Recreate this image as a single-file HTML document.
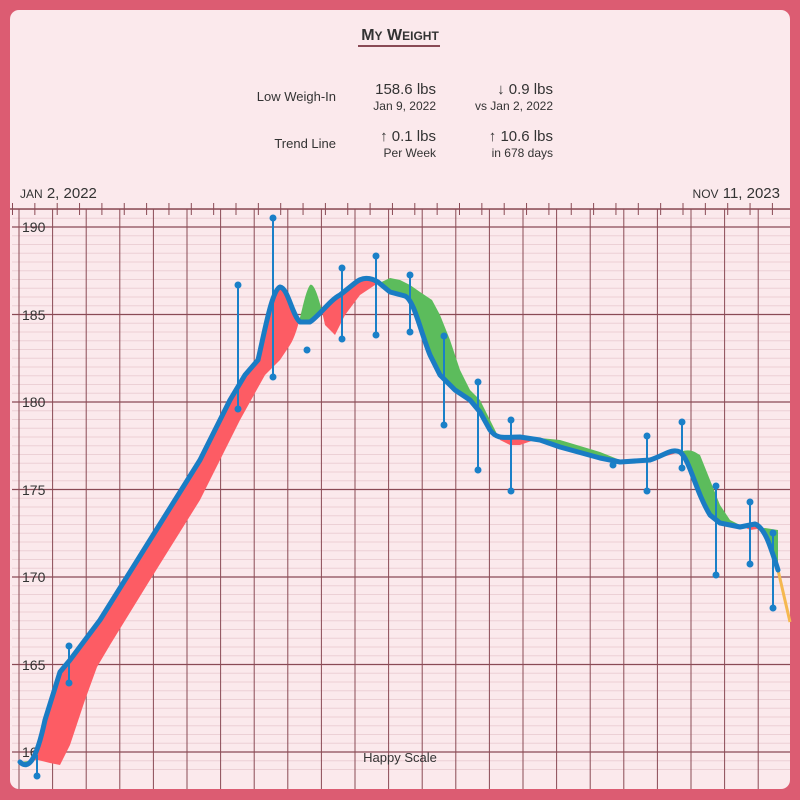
<!DOCTYPE html>
<html><head><meta charset="utf-8"><style>
body{margin:0;width:800px;height:800px;background:#dc5c72;font-family:"Liberation Sans",sans-serif;overflow:hidden}
</style></head><body>
<svg width="800" height="800" xmlns="http://www.w3.org/2000/svg" style="position:absolute;left:0;top:0">
<defs>
<clipPath id="card"><rect x="10" y="10" width="780" height="779" rx="9"/></clipPath>
<clipPath id="below"><path d="M20,762 C28,770 36,762 45,720 L60,672 L70,660 L100,620 L150,540 L200,460 L230,400 L245,375 L258,360 C265,330 272,290 280,287 C288,288 292,315 300,322 L310,322 C320,315 330,300 340,295 L355,283 C362,277 370,277 378,282 L390,292 L405,296 C414,300 420,330 430,355 L440,375 L455,390 L470,400 L480,412 L490,430 C497,440 505,437 520,437 L540,440 L560,447 L600,458 L620,462 L650,460 C665,455 672,448 680,452 C690,460 695,490 710,515 L720,523 L740,527 L755,524 C765,528 770,545 778,570 L800,620 L800,800 L0,800 L0,762 Z"/></clipPath>
<clipPath id="above"><path d="M20,762 C28,770 36,762 45,720 L60,672 L70,660 L100,620 L150,540 L200,460 L230,400 L245,375 L258,360 C265,330 272,290 280,287 C288,288 292,315 300,322 L310,322 C320,315 330,300 340,295 L355,283 C362,277 370,277 378,282 L390,292 L405,296 C414,300 420,330 430,355 L440,375 L455,390 L470,400 L480,412 L490,430 C497,440 505,437 520,437 L540,440 L560,447 L600,458 L620,462 L650,460 C665,455 672,448 680,452 C690,460 695,490 710,515 L720,523 L740,527 L755,524 C765,528 770,545 778,570 L800,620 L800,0 L0,0 L0,762 Z"/></clipPath>
<path id="band" d="M20,762 C28,770 36,762 45,720 L60,672 L70,660 L100,620 L150,540 L200,460 L230,400 L245,375 L258,360 C265,330 272,290 280,287 C288,288 292,315 300,322 L310,322 C320,315 330,300 340,295 L355,283 C362,277 370,277 378,282 L390,292 L405,296 C414,300 420,330 430,355 L440,375 L455,390 L470,400 L480,412 L490,430 C497,440 505,437 520,437 L540,440 L560,447 L600,458 L620,462 L650,460 C665,455 672,448 680,452 C690,460 695,490 710,515 L720,523 L740,527 L755,524 C765,528 770,545 778,570
L778,530 L765,528 L750,530 L730,520 L720,505 L710,480 L700,455 C695,452 690,448 680,452 L670,455 L650,460 L620,460 L600,452 L560,440 L540,438 L520,445 L510,445 L500,440 L490,420 L480,400 L470,390 L460,370 L450,340 L440,315 L432,300 L420,292 L410,285 L400,280 L390,278 L375,285 L360,295 L345,315 L335,335 L325,325 C320,300 314,282 310,285 C303,295 300,330 290,345 L280,360 L265,375 L240,420 L200,500 L150,580 L110,645 L97,667 L85,700 L70,745 L60,765 L50,763 L38,760 Z"/>
</defs>
<rect x="10" y="10" width="780" height="779" rx="9" fill="#fbe9ec"/>
<g id="grid" clip-path="url(#card)"></g>
<g font-family="Liberation Sans" fill="#333">
<text x="400" y="40" text-anchor="middle" font-size="16" font-weight="bold"><tspan>M</tspan><tspan font-size="12">Y</tspan><tspan> W</tspan><tspan font-size="12">EIGHT</tspan></text>
<rect x="358" y="45" width="82" height="2" fill="#8a4a55"/>
<text x="336" y="101" text-anchor="end" font-size="13">Low Weigh-In</text>
<text x="436" y="94" text-anchor="end" font-size="15">158.6 lbs</text>
<text x="436" y="110" text-anchor="end" font-size="12">Jan 9, 2022</text>
<text x="553" y="94" text-anchor="end" font-size="15">↓ 0.9 lbs</text>
<text x="553" y="110" text-anchor="end" font-size="12">vs Jan 2, 2022</text>
<text x="336" y="148" text-anchor="end" font-size="13">Trend Line</text>
<text x="436" y="141" text-anchor="end" font-size="15">↑ 0.1 lbs</text>
<text x="436" y="157" text-anchor="end" font-size="12">Per Week</text>
<text x="553" y="141" text-anchor="end" font-size="15">↑ 10.6 lbs</text>
<text x="553" y="157" text-anchor="end" font-size="12">in 678 days</text>
<text x="20" y="198" font-size="15"><tspan font-size="12">JAN</tspan> 2, 2022</text>
<text x="780" y="198" text-anchor="end" font-size="15"><tspan font-size="12">NOV</tspan> 11, 2023</text>
</g>
<script>
const ns="http://www.w3.org/2000/svg";
const g=document.getElementById('grid');
function ln(x1,y1,x2,y2,c,w){const l=document.createElementNS(ns,'line');l.setAttribute('x1',x1);l.setAttribute('y1',y1);l.setAttribute('x2',x2);l.setAttribute('y2',y2);l.setAttribute('stroke',c);l.setAttribute('stroke-width',w);g.appendChild(l);}
for(let v=159;v<=191.5;v+=0.5){const y=227+(190-v)*17.5;if(y<209||y>790)continue;const maj=Math.abs(v%5)<0.01;ln(12,y,790,y,maj?'#8a4a55':'#ecd0d5',maj?1.3:1);}
for(let x=19;x<790;x+=33.6){ln(x,209,x,790,'#8a4a55',1);}
for(let x=12.5;x<790;x+=22.35){ln(x,203,x,215,'#8a4a55',1);}
ln(10,209,790,209,'#8a4a55',1.5);
</script>
<g fill="#333" font-size="14" font-family="Liberation Sans">
<text x="22" y="232">190</text><text x="22" y="320">185</text><text x="22" y="407">180</text>
<text x="22" y="495">175</text><text x="22" y="582">170</text><text x="22" y="670">165</text><text x="22" y="757">160</text>
</g>
<use href="#band" fill="#fd5c64" clip-path="url(#below)"/>
<use href="#band" fill="#5cbc5c" clip-path="url(#above)"/>
<path d="M778,570 L790,622" stroke="#f5b850" stroke-width="3" fill="none"/>
<g stroke="#1a80c8" stroke-width="2" fill="#1a80c8">
<line x1="238" y1="285" x2="238" y2="409"/><circle cx="238" cy="285" r="2.5"/><circle cx="238" cy="409" r="2.5"/>
<line x1="273" y1="218" x2="273" y2="377"/><circle cx="273" cy="218" r="2.5"/><circle cx="273" cy="377" r="2.5"/>
<circle cx="307" cy="350" r="2.5"/>
<line x1="342" y1="268" x2="342" y2="339"/><circle cx="342" cy="268" r="2.5"/><circle cx="342" cy="339" r="2.5"/>
<line x1="376" y1="256" x2="376" y2="335"/><circle cx="376" cy="256" r="2.5"/><circle cx="376" cy="335" r="2.5"/>
<line x1="410" y1="275" x2="410" y2="332"/><circle cx="410" cy="275" r="2.5"/><circle cx="410" cy="332" r="2.5"/>
<line x1="444" y1="336" x2="444" y2="425"/><circle cx="444" cy="336" r="2.5"/><circle cx="444" cy="425" r="2.5"/>
<line x1="478" y1="382" x2="478" y2="470"/><circle cx="478" cy="382" r="2.5"/><circle cx="478" cy="470" r="2.5"/>
<line x1="511" y1="420" x2="511" y2="491"/><circle cx="511" cy="420" r="2.5"/><circle cx="511" cy="491" r="2.5"/>
<circle cx="613" cy="465" r="2.5"/>
<line x1="647" y1="436" x2="647" y2="491"/><circle cx="647" cy="436" r="2.5"/><circle cx="647" cy="491" r="2.5"/>
<line x1="682" y1="422" x2="682" y2="468"/><circle cx="682" cy="422" r="2.5"/><circle cx="682" cy="468" r="2.5"/>
<line x1="716" y1="486" x2="716" y2="575"/><circle cx="716" cy="486" r="2.5"/><circle cx="716" cy="575" r="2.5"/>
<line x1="750" y1="502" x2="750" y2="564"/><circle cx="750" cy="502" r="2.5"/><circle cx="750" cy="564" r="2.5"/>
<line x1="773" y1="533" x2="773" y2="608"/><circle cx="773" cy="533" r="2.5"/><circle cx="773" cy="608" r="2.5"/>
<line x1="37" y1="755" x2="37" y2="776"/><circle cx="37" cy="776" r="2.5"/>
<line x1="69" y1="646" x2="69" y2="683"/><circle cx="69" cy="646" r="2.5"/><circle cx="69" cy="683" r="2.5"/>
</g>
<path d="M20,762 C28,770 36,762 45,720 L60,672 L70,660 L100,620 L150,540 L200,460 L230,400 L245,375 L258,360 C265,330 272,290 280,287 C288,288 292,315 300,322 L310,322 C320,315 330,300 340,295 L355,283 C362,277 370,277 378,282 L390,292 L405,296 C414,300 420,330 430,355 L440,375 L455,390 L470,400 L480,412 L490,430 C497,440 505,437 520,437 L540,440 L560,447 L600,458 L620,462 L650,460 C665,455 672,448 680,452 C690,460 695,490 710,515 L720,523 L740,527 L755,524 C765,528 770,545 778,570" fill="none" stroke="#1a7cc4" stroke-width="5" stroke-linejoin="round" stroke-linecap="round"/>
<text x="400" y="762" text-anchor="middle" font-size="13" fill="#333" font-family="Liberation Sans">Happy Scale</text>
</svg>
</body></html>
